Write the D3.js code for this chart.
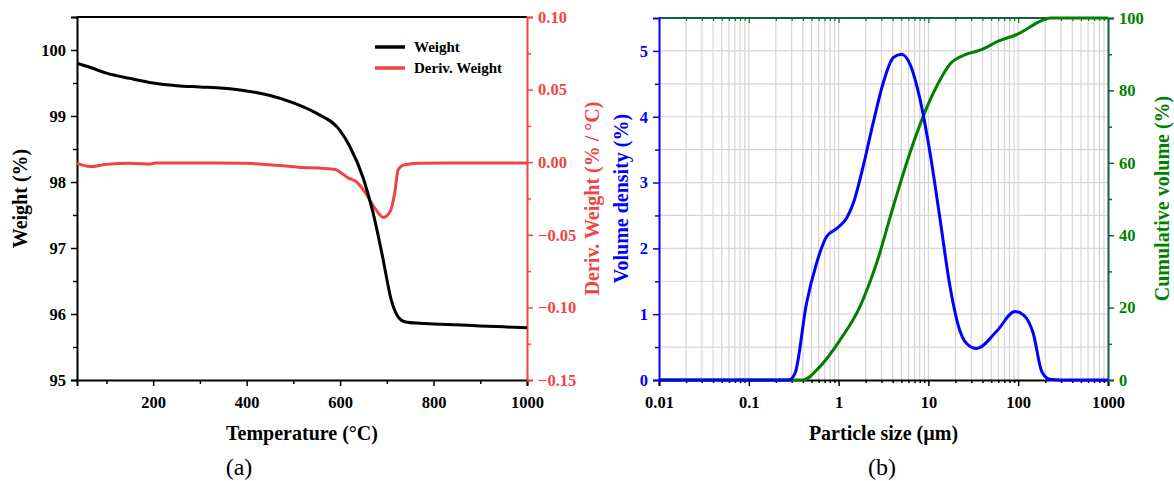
<!DOCTYPE html>
<html>
<head>
<meta charset="utf-8">
<script src="https://cdn.jsdelivr.net/npm/d3@7"></script>
<style>
  body { margin: 0; background: #fff; }
  text { font-family: "Liberation Serif", "Times New Roman", serif; }
</style>
</head>
<body>
<div id="chart"></div>
<script>
// (a) TGA data
const tgaTemp   = [37, 60, 100, 150, 200, 250, 300, 350, 400, 450, 500, 550, 600, 620, 650, 670, 690, 710, 725, 740, 770, 800, 900, 1000];
const tgaWeight = [99.80, 99.75, 99.65, 99.57, 99.50, 99.46, 99.44, 99.42, 99.38, 99.31, 99.20, 99.04, 98.78, 98.55, 98.05, 97.55, 96.90, 96.20, 95.95, 95.88, 95.86, 95.85, 95.82, 95.79];
const dtgTemp   = [37, 65, 100, 150, 195, 205, 250, 300, 400, 511, 590, 605, 618, 633, 654, 675, 693, 707, 717, 724, 735, 745, 767, 850, 1000];
const dtgValue  = [-0.0007, -0.003, -0.0015, -0.0008, -0.0012, -0.0006, -0.0005, -0.0005, -0.0008, -0.0034, -0.005, -0.008, -0.011, -0.013, -0.021, -0.032, -0.038, -0.034, -0.021, -0.0055, -0.002, -0.0014, -0.0007, -0.0005, -0.0005];

// (b) particle size data
const psdSize    = [0.01, 0.1, 0.28, 0.327, 0.44, 0.57, 0.736, 0.95, 1.23, 1.46, 1.88, 2.43, 3.15, 4.07, 5.03, 6.23, 8.05, 10.4, 13.5, 17.4, 22.5, 29.1, 34.5, 57.5, 92, 114, 147, 183, 226, 300, 1000];
const psdDensity = [0, 0, 0, 0.1, 1.17, 1.78, 2.18, 2.30, 2.46, 2.69, 3.25, 3.91, 4.52, 4.90, 4.95, 4.80, 4.27, 3.46, 2.44, 1.42, 0.74, 0.51, 0.48, 0.74, 1.04, 0.99, 0.71, 0.13, 0.01, 0, 0];
const cumSize    = [0.01, 0.1, 0.40, 0.62, 1.04, 1.73, 2.65, 4.07, 6.24, 8.77, 12.4, 17.4, 26.7, 37.6, 60, 100, 180, 226, 300, 1000];
const cumVolume  = [0, 0, 0, 3.7, 11.1, 20.3, 32.3, 48, 62.8, 72.9, 81.2, 87.3, 90, 91.1, 93.6, 95.6, 99.2, 100, 100, 100];

const tempTicks    = [200, 400, 600, 800, 1000];
const weightTicks  = [95, 96, 97, 98, 99, 100];
const derivTicks   = [-0.15, -0.10, -0.05, 0.00, 0.05, 0.10];
const sizeTicks    = [0.01, 0.1, 1, 10, 100, 1000];
const densityTicks = [0, 1, 2, 3, 4, 5];
const cumTicks     = [0, 20, 40, 60, 80, 100];

const RED = '#f04444', BLUE = '#0000ff', GREEN = '#008000', TEAL = '#0f5f4a';

const svg = d3.select('#chart').append('svg')
  .attr('width', 1174)
  .attr('height', 481);

const plotTop = 17, plotBottom = 380;

// ---------- panel (a) ----------
const a = { left: 77, right: 527 };
const xT = d3.scaleLinear().domain([37, 1000]).range([a.left, a.right]);
const yW = d3.scaleLinear().domain([95, 100.5]).range([plotBottom, plotTop]);
const yD = d3.scaleLinear().domain([-0.15, 0.10]).range([plotBottom, plotTop]);

const ga = svg.append('g');

function styleAxis(g, color, size) {
  g.selectAll('path.domain').attr('stroke', color).attr('stroke-width', 2);
  g.selectAll('.tick line').attr('stroke', color).attr('stroke-width', 1.5);
  g.selectAll('.tick text')
    .attr('fill', color)
    .attr('font-weight', 'bold')
    .attr('font-size', size || 16.5)
    .attr('font-family', '"Liberation Serif", serif');
}

// minor ticks
ga.append('g').attr('transform', `translate(0,${plotBottom})`)
  .call(d3.axisBottom(xT).tickValues(d3.range(100, 1001, 200)).tickSize(4).tickFormat(''))
  .call(g => { g.select('.domain').remove(); g.selectAll('line').attr('stroke', '#000').attr('stroke-width', 1.5); });
ga.append('g').attr('transform', `translate(${a.left},0)`)
  .call(d3.axisLeft(yW).tickValues(d3.range(95.5, 100.6, 1)).tickSize(4).tickFormat(''))
  .call(g => { g.select('.domain').remove(); g.selectAll('line').attr('stroke', '#000').attr('stroke-width', 1.5); });
ga.append('g').attr('transform', `translate(${a.right},0)`)
  .call(d3.axisRight(yD).tickValues([-0.125, -0.075, -0.025, 0.025, 0.075]).tickSize(4).tickFormat(''))
  .call(g => { g.select('.domain').remove(); g.selectAll('line').attr('stroke', RED).attr('stroke-width', 1.5); });

// top border
ga.append('line').attr('x1', a.left).attr('x2', a.right).attr('y1', plotTop).attr('y2', plotTop)
  .attr('stroke', '#000').attr('stroke-width', 2);

ga.append('g').attr('transform', `translate(0,${plotBottom})`)
  .call(d3.axisBottom(xT).tickValues(tempTicks).tickSize(6).tickPadding(10).tickFormat(d3.format('d')))
  .call(g => styleAxis(g, '#000'));
ga.append('g').attr('transform', `translate(${a.left},0)`)
  .call(d3.axisLeft(yW).tickValues(weightTicks).tickSize(6).tickPadding(5).tickFormat(d3.format('d')))
  .call(g => styleAxis(g, '#000'));
ga.append('g').attr('transform', `translate(${a.right},0)`)
  .call(d3.axisRight(yD).tickValues(derivTicks).tickSize(6).tickPadding(5).tickFormat(d3.format('.2f')))
  .call(g => styleAxis(g, RED));

const lineW = d3.line().x((d, i) => xT(tgaTemp[i])).y(d => yW(d)).curve(d3.curveMonotoneX);
const lineD = d3.line().x((d, i) => xT(dtgTemp[i])).y(d => yD(d)).curve(d3.curveMonotoneX);

ga.append('path').datum(dtgValue).attr('d', lineD)
  .attr('fill', 'none').attr('stroke', RED).attr('stroke-width', 3);
ga.append('path').datum(tgaWeight).attr('d', lineW)
  .attr('fill', 'none').attr('stroke', '#000').attr('stroke-width', 3);

// legend
const legend = [{ name: 'Weight', color: '#000' }, { name: 'Deriv. Weight', color: RED }];
legend.forEach((d, i) => {
  const y = 47 + i * 21;
  ga.append('line').attr('x1', 375).attr('x2', 405).attr('y1', y).attr('y2', y)
    .attr('stroke', d.color).attr('stroke-width', 3.5);
  ga.append('text').attr('x', 414).attr('y', y + 5)
    .attr('font-size', 15).attr('font-weight', 'bold').text(d.name);
});

ga.append('text').attr('x', (a.left + a.right) / 2).attr('y', 440)
  .attr('text-anchor', 'middle').attr('font-size', 20).attr('font-weight', 'bold')
  .text('Temperature (°C)');
ga.append('text').attr('transform', `translate(27,${(plotTop + plotBottom) / 2}) rotate(-90)`)
  .attr('text-anchor', 'middle').attr('font-size', 20).attr('font-weight', 'bold')
  .text('Weight (%)');
ga.append('text').attr('transform', `translate(599,${(plotTop + plotBottom) / 2}) rotate(-90)`)
  .attr('text-anchor', 'middle').attr('font-size', 20).attr('font-weight', 'bold').attr('fill', RED)
  .text('Deriv. Weight (% / °C)');
ga.append('text').attr('x', 239).attr('y', 475)
  .attr('text-anchor', 'middle').attr('font-size', 24).text('(a)');

// ---------- panel (b) ----------
const b = { left: 659, right: 1108, top: 18 };
const xS = d3.scaleLog().domain([0.01, 1000]).range([b.left, b.right]);
const yV = d3.scaleLinear().domain([0, 5.5]).range([plotBottom, b.top]);
const yC = d3.scaleLinear().domain([0, 100]).range([plotBottom, b.top]);

const gb = svg.append('g');

const logMinor = [];
sizeTicks.slice(0, -1).forEach(d => { for (let k = 2; k <= 9; k++) logMinor.push(d * k); });

// grid
gb.append('g').selectAll('line').data(logMinor.concat(sizeTicks.slice(1, -1))).join('line')
  .attr('x1', d => xS(d)).attr('x2', d => xS(d)).attr('y1', b.top).attr('y2', plotBottom)
  .attr('stroke', '#d6d6d6').attr('stroke-width', 1.2);
gb.append('g').selectAll('line').data(d3.range(0.5, 5.01, 0.5)).join('line')
  .attr('x1', b.left).attr('x2', b.right).attr('y1', d => yV(d)).attr('y2', d => yV(d))
  .attr('stroke', '#d6d6d6').attr('stroke-width', 1.2);

// top axis with inward green ticks
gb.append('g').attr('transform', `translate(0,${b.top})`)
  .call(d3.axisBottom(xS).tickValues(logMinor).tickSize(3).tickFormat(''))
  .call(g => { g.select('.domain').remove(); g.selectAll('line').attr('stroke', GREEN).attr('stroke-width', 1.2); });
gb.append('g').attr('transform', `translate(0,${b.top})`)
  .call(d3.axisBottom(xS).tickValues(sizeTicks).tickSize(5).tickFormat(''))
  .call(g => { g.select('.domain').remove(); g.selectAll('line').attr('stroke', GREEN).attr('stroke-width', 1.2); });
gb.append('line').attr('x1', b.left).attr('x2', b.right).attr('y1', b.top).attr('y2', b.top)
  .attr('stroke', TEAL).attr('stroke-width', 2);

// minor ticks
gb.append('g').attr('transform', `translate(0,${plotBottom})`)
  .call(d3.axisBottom(xS).tickValues(logMinor).tickSize(3).tickFormat(''))
  .call(g => { g.select('.domain').remove(); g.selectAll('line').attr('stroke', '#000').attr('stroke-width', 1.5); });
gb.append('g').attr('transform', `translate(${b.left},0)`)
  .call(d3.axisLeft(yV).tickValues(d3.range(0.5, 5.1, 1)).tickSize(4).tickFormat(''))
  .call(g => { g.select('.domain').remove(); g.selectAll('line').attr('stroke', BLUE).attr('stroke-width', 1.5); });
gb.append('g').attr('transform', `translate(${b.right},0)`)
  .call(d3.axisRight(yC).tickValues([10, 30, 50, 70, 90]).tickSize(4).tickFormat(''))
  .call(g => { g.select('.domain').remove(); g.selectAll('line').attr('stroke', TEAL).attr('stroke-width', 1.5); });

gb.append('g').attr('transform', `translate(0,${plotBottom})`)
  .call(d3.axisBottom(xS).tickValues(sizeTicks).tickSize(6).tickPadding(10).tickFormat(d => String(d)))
  .call(g => styleAxis(g, '#000'));
gb.append('g').attr('transform', `translate(${b.right},0)`)
  .call(d3.axisRight(yC).tickValues(cumTicks).tickSize(6).tickPadding(5).tickFormat(d3.format('d')))
  .call(g => {
    styleAxis(g, GREEN);
    g.selectAll('path.domain').attr('stroke', TEAL);
    g.selectAll('.tick line').attr('stroke', TEAL);
  });

const lineC = d3.line().x((d, i) => xS(cumSize[i])).y(d => yC(d)).curve(d3.curveMonotoneX);
const lineV = d3.line().x((d, i) => xS(psdSize[i])).y(d => yV(d)).curve(d3.curveMonotoneX);

gb.append('path').datum(cumVolume).attr('d', lineC)
  .attr('fill', 'none').attr('stroke', GREEN).attr('stroke-width', 3);
gb.append('path').datum(psdDensity).attr('d', lineV)
  .attr('fill', 'none').attr('stroke', BLUE).attr('stroke-width', 3);

gb.append('g').attr('transform', `translate(${b.left},0)`)
  .call(d3.axisLeft(yV).tickValues(densityTicks).tickSize(6).tickPadding(5).tickFormat(d3.format('d')))
  .call(g => styleAxis(g, BLUE));

gb.append('text').attr('x', (b.left + b.right) / 2).attr('y', 440)
  .attr('text-anchor', 'middle').attr('font-size', 20).attr('font-weight', 'bold')
  .text('Particle size (µm)');
gb.append('text').attr('transform', `translate(628,${(plotTop + plotBottom) / 2}) rotate(-90)`)
  .attr('text-anchor', 'middle').attr('font-size', 20).attr('font-weight', 'bold').attr('fill', BLUE)
  .text('Volume density (%)');
gb.append('text').attr('transform', `translate(1169,${(plotTop + plotBottom) / 2}) rotate(-90)`)
  .attr('text-anchor', 'middle').attr('font-size', 20).attr('font-weight', 'bold').attr('fill', GREEN)
  .text('Cumulative volume (%)');
gb.append('text').attr('x', 882).attr('y', 475)
  .attr('text-anchor', 'middle').attr('font-size', 24).text('(b)');
</script>
</body>
</html>
